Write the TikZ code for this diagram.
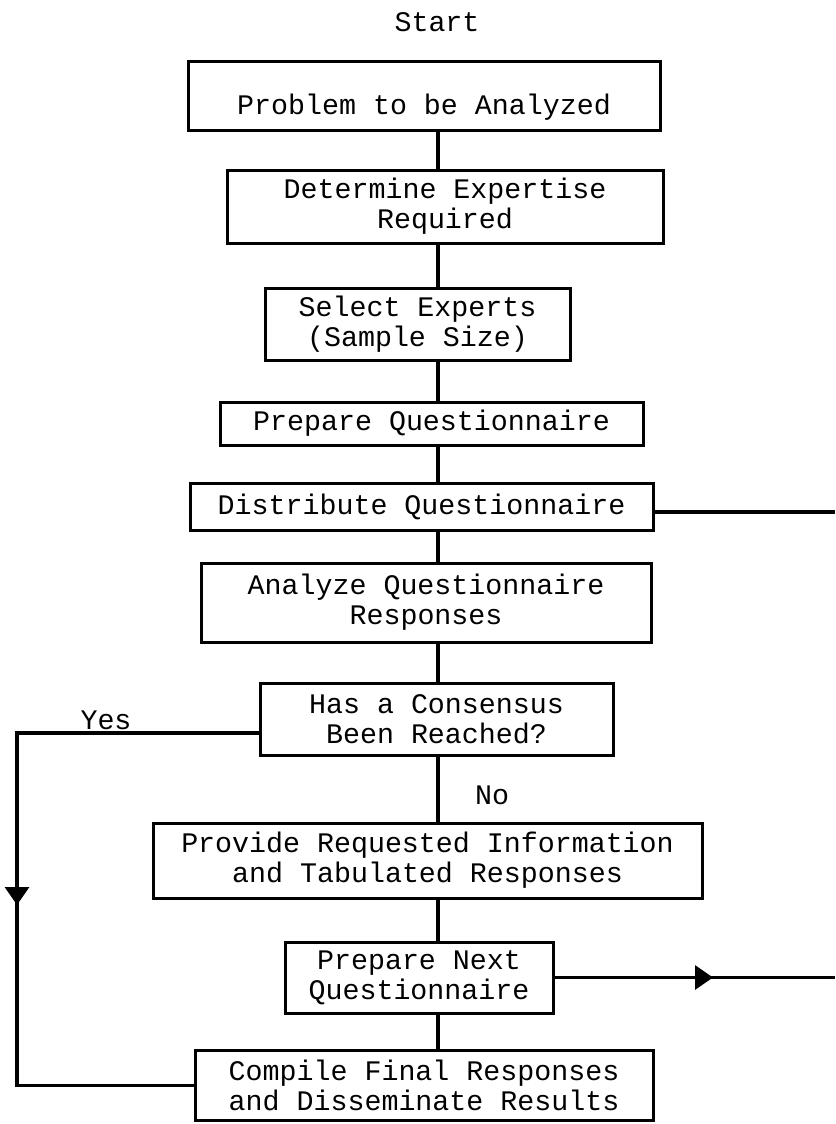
\documentclass[tikz,border=0pt]{standalone}
\usepackage{fontspec}
\setmainfont{Liberation Mono}
\usetikzlibrary{arrows.meta}

\tikzset{
    stepbox/.style={draw, line width=3pt, inner sep=0pt, align=center},
    wire/.style={line width=3.2pt},
    tip/.style={wire, -{Triangle[length=18pt, width=24pt]}}
}

\begin{document}
\begin{tikzpicture}[x=1pt, y=-1pt]
        \fontsize{28.3}{30}\selectfont
        \useasboundingbox (0,0) rectangle (835,1124);
        \pgfmathsetmacro{\ax}{438};
        \coordinate (axis) at (\ax,0);
        \coordinate (rim) at (835,0);
        \coordinate (yes) at (17,733);
        \coordinate (down) at (17,905);
        \coordinate (tipnext) at (713,0);
        % the boxes, top to bottom
        \node (start) at (437,22) {Start};
        \node [stepbox, minimum width=472pt, minimum height=68pt, text height=42pt] (problem) at (424,96) {Problem to be Analyzed};
        \node [stepbox, minimum width=436pt, minimum height=73pt] (expertise) at (445,206.5) {Determine Expertise\\Required};
        \node [stepbox, minimum width=305pt, minimum height=72pt] (experts) at (417.5,324) {Select Experts\\(Sample Size)};
        \node [stepbox, minimum width=423pt, minimum height=43pt] (prepare) at (431.5,423.5) {Prepare Questionnaire};
        \node [stepbox, minimum width=463pt, minimum height=47pt] (distribute) at (421.5,506.5) {Distribute Questionnaire};
        \node [stepbox, minimum width=450pt, minimum height=79pt] (analyze) at (426,602.5) {Analyze Questionnaire\\Responses};
        \node [stepbox, minimum width=353pt, minimum height=72pt] (consensus) at (436.5,719) {Has a Consensus\\Been Reached?};
        \node [stepbox, minimum width=549pt, minimum height=75pt] (provide) at (427.5,860.5) {Provide Requested Information\\and Tabulated Responses};
        \node [stepbox, minimum width=268pt, minimum height=71pt] (next) at (419,977.5) {Prepare Next\\Questionnaire};
        \node [stepbox, minimum width=458pt, minimum height=70pt] (compile) at (424,1085.5) {Compile Final Responses\\and Disseminate Results};
        \node (yeslabel) at (106,720) {Yes};
        \node (nolabel) at (492,795) {No};
        % main line
        \draw [wire] (problem.south -| axis) -- (expertise.north -| axis);
        \draw [wire] (expertise.south -| axis) -- (experts.north -| axis);
        \draw [wire] (experts.south -| axis) -- (prepare.north -| axis);
        \draw [wire] (prepare.south -| axis) -- (distribute.north -| axis);
        \draw [wire] (distribute.south -| axis) -- (analyze.north -| axis);
        \draw [wire] (analyze.south -| axis) -- (consensus.north -| axis);
        \draw [wire] (consensus.south -| axis) -- (provide.north -| axis);
        \draw [wire] (provide.south -| axis) -- (next.north -| axis);
        \draw [wire] (next.south -| axis) -- (compile.north -| axis);
        % side lines
        \draw [wire] (distribute.east |- 0,512) -- (rim |- 0,512);
        \draw [wire] (next.east) -- (next.east -| rim);
        \draw [tip] (next.east) -- (next.east -| tipnext);
        \draw [wire] (consensus.west |- yes) -- (yes) -- (yes |- compile.west) -- (compile.west);
        \draw [tip] (yes) -- (down);
    \end{tikzpicture}
\end{document}
